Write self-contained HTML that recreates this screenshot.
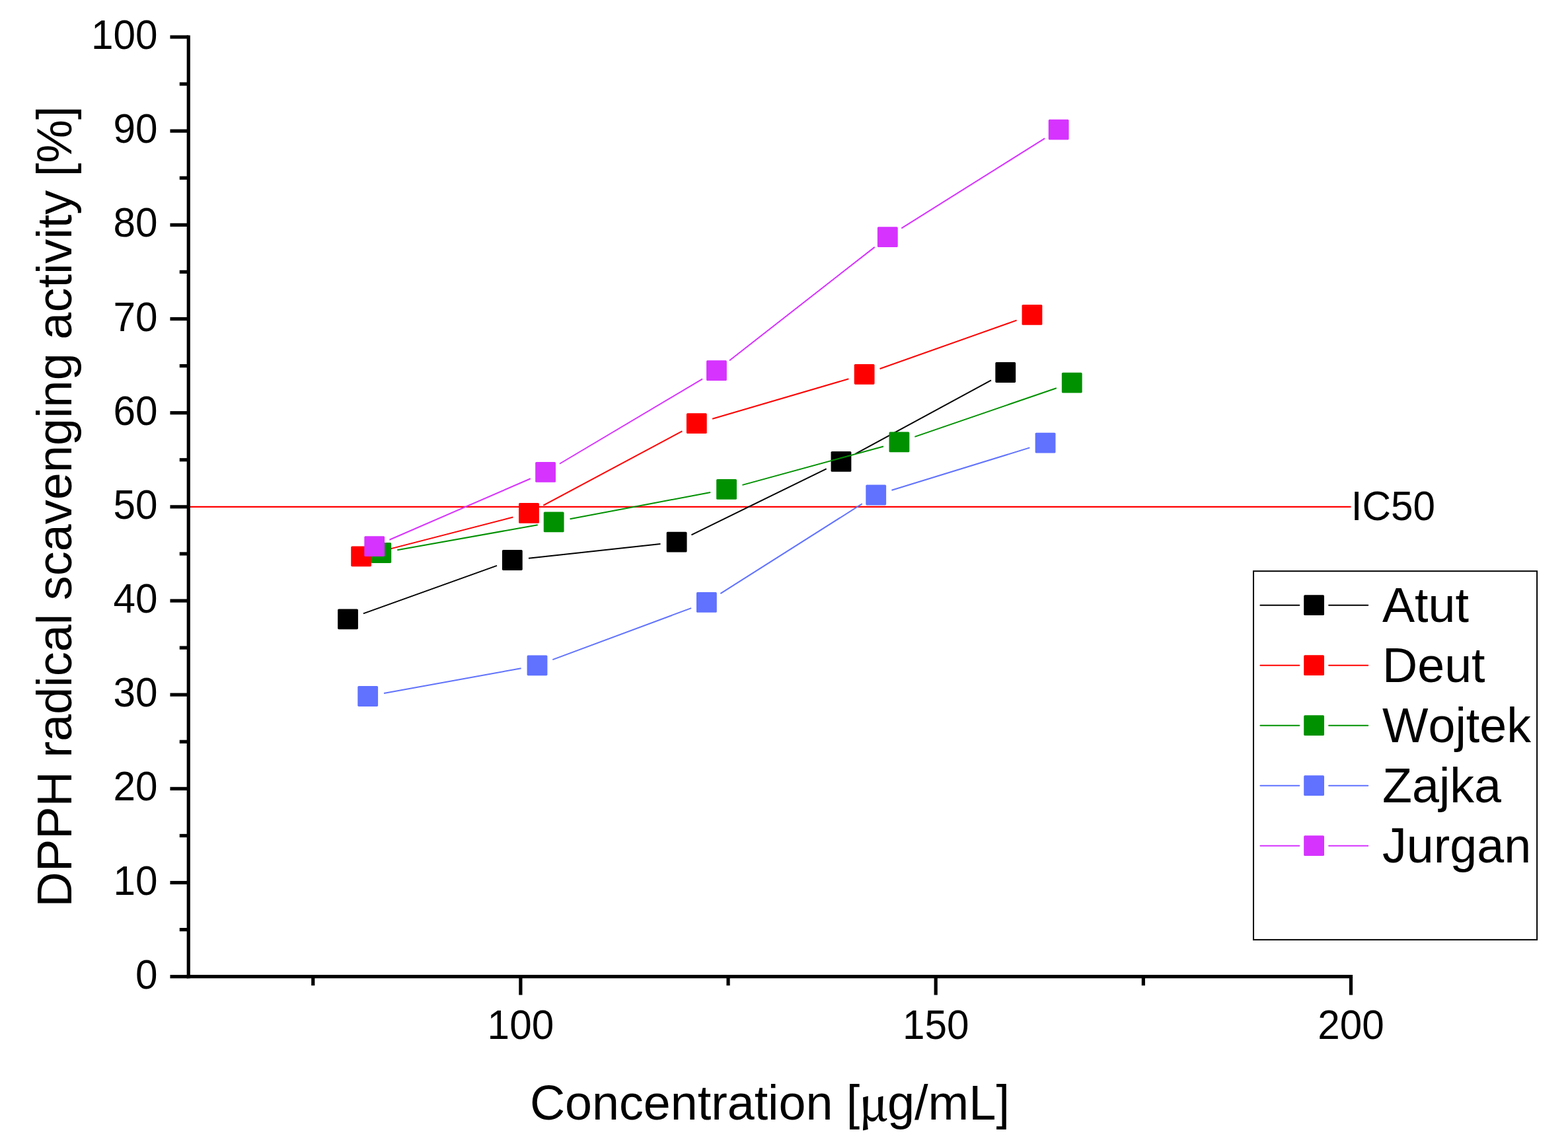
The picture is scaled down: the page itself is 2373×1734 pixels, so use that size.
<!DOCTYPE html>
<html lang="en"><head><meta charset="utf-8"><title>DPPH radical scavenging activity vs concentration</title>
<style>
html,body{margin:0;padding:0;background:#fff;overflow:hidden;}
svg{display:block;}
text{font-family:"Liberation Sans",Arial,sans-serif;fill:#000;font-kerning:none;}
.mu{font-family:"Noto Serif CJK SC","Liberation Serif",serif;font-weight:600;}
</style></head><body>
<svg width="2373" height="1734" viewBox="0 0 2373 1734">
<rect width="2373" height="1734" fill="#fff"/>
<line x1="285.26" y1="766.9" x2="2044.5" y2="766.9" stroke="#ff0000" stroke-width="2.1"/>
<g>
<line x1="549.87" y1="928.42" x2="751.99" y2="855.88" stroke="#000000" stroke-width="2.0"/>
<line x1="799.99" y1="844.8" x2="999.49" y2="822.9" stroke="#000000" stroke-width="2.0"/>
<line x1="1046.42" y1="809.3" x2="1250.67" y2="709.3" stroke="#000000" stroke-width="2.0"/>
<line x1="1294.75" y1="686.58" x2="1499.95" y2="575.32" stroke="#000000" stroke-width="2.0"/>
<rect x="511.13" y="921.4" width="30.8" height="30.8" rx="1.6" fill="#000000"/>
<rect x="759.93" y="832.1" width="30.8" height="30.8" rx="1.6" fill="#000000"/>
<rect x="1008.74" y="804.8" width="30.8" height="30.8" rx="1.6" fill="#000000"/>
<rect x="1257.55" y="683" width="30.8" height="30.8" rx="1.6" fill="#000000"/>
<rect x="1506.35" y="548.1" width="30.8" height="30.8" rx="1.6" fill="#000000"/>
</g>
<g>
<line x1="570.65" y1="835.61" x2="776.45" y2="782.59" stroke="#ff0000" stroke-width="2.0"/>
<line x1="822.34" y1="764.71" x2="1032.43" y2="652.39" stroke="#ff0000" stroke-width="2.0"/>
<line x1="1078.1" y1="633.72" x2="1284.33" y2="573.28" stroke="#ff0000" stroke-width="2.0"/>
<line x1="1331.51" y1="558.02" x2="1538.59" y2="484.68" stroke="#ff0000" stroke-width="2.0"/>
<rect x="531.23" y="826.4" width="30.8" height="30.8" rx="1.6" fill="#ff0000"/>
<rect x="785.07" y="761" width="30.8" height="30.8" rx="1.6" fill="#ff0000"/>
<rect x="1038.9" y="625.3" width="30.8" height="30.8" rx="1.6" fill="#ff0000"/>
<rect x="1292.73" y="550.9" width="30.8" height="30.8" rx="1.6" fill="#ff0000"/>
<rect x="1546.57" y="461" width="30.8" height="30.8" rx="1.6" fill="#ff0000"/>
</g>
<g>
<line x1="601.21" y1="832.15" x2="813.75" y2="794.25" stroke="#009100" stroke-width="2.0"/>
<line x1="862.53" y1="785.29" x2="1075.17" y2="745.01" stroke="#009100" stroke-width="2.0"/>
<line x1="1123.46" y1="733.86" x2="1336.99" y2="675.44" stroke="#009100" stroke-width="2.0"/>
<line x1="1384.37" y1="660.85" x2="1598.83" y2="587.25" stroke="#009100" stroke-width="2.0"/>
<rect x="561.39" y="821.1" width="30.8" height="30.8" rx="1.6" fill="#009100"/>
<rect x="822.76" y="774.5" width="30.8" height="30.8" rx="1.6" fill="#009100"/>
<rect x="1084.14" y="725" width="30.8" height="30.8" rx="1.6" fill="#009100"/>
<rect x="1345.51" y="653.5" width="30.8" height="30.8" rx="1.6" fill="#009100"/>
<rect x="1606.88" y="563.8" width="30.8" height="30.8" rx="1.6" fill="#009100"/>
</g>
<g>
<line x1="581.08" y1="1049.06" x2="788.63" y2="1011.24" stroke="#6072ff" stroke-width="2.0"/>
<line x1="836.28" y1="998.15" x2="1046.13" y2="920.1" stroke="#6072ff" stroke-width="2.0"/>
<line x1="1090.33" y1="898.18" x2="1304.78" y2="762.27" stroke="#6072ff" stroke-width="2.0"/>
<line x1="1349.43" y1="741.7" x2="1558.37" y2="677.4" stroke="#6072ff" stroke-width="2.0"/>
<rect x="541.29" y="1038.1" width="30.8" height="30.8" rx="1.6" fill="#6072ff"/>
<rect x="797.63" y="991.4" width="30.8" height="30.8" rx="1.6" fill="#6072ff"/>
<rect x="1053.98" y="896.05" width="30.8" height="30.8" rx="1.6" fill="#6072ff"/>
<rect x="1310.32" y="733.6" width="30.8" height="30.8" rx="1.6" fill="#6072ff"/>
<rect x="1566.67" y="654.7" width="30.8" height="30.8" rx="1.6" fill="#6072ff"/>
</g>
<g>
<line x1="589.49" y1="816.74" x2="802.84" y2="724.26" stroke="#d633ff" stroke-width="2.0"/>
<line x1="846.92" y1="701.74" x2="1063.13" y2="573.36" stroke="#d633ff" stroke-width="2.0"/>
<line x1="1104.01" y1="545.44" x2="1323.77" y2="373.86" stroke="#d633ff" stroke-width="2.0"/>
<line x1="1364.33" y1="345.42" x2="1581.17" y2="209.38" stroke="#d633ff" stroke-width="2.0"/>
<rect x="551.34" y="811.2" width="30.8" height="30.8" rx="1.6" fill="#d633ff"/>
<rect x="810.2" y="699" width="30.8" height="30.8" rx="1.6" fill="#d633ff"/>
<rect x="1069.06" y="545.3" width="30.8" height="30.8" rx="1.6" fill="#d633ff"/>
<rect x="1327.92" y="343.2" width="30.8" height="30.8" rx="1.6" fill="#d633ff"/>
<rect x="1586.78" y="180.8" width="30.8" height="30.8" rx="1.6" fill="#d633ff"/>
</g>
<g stroke="#000" stroke-width="5.2">
<line x1="285.26" y1="53.4" x2="285.26" y2="1480.3"/>
<line x1="282.66" y1="1477.7" x2="2047.1" y2="1477.7"/>
<line x1="257.46" y1="1477.7" x2="285.26" y2="1477.7"/>
<line x1="271.76" y1="1406.62" x2="285.26" y2="1406.62"/>
<line x1="257.46" y1="1335.53" x2="285.26" y2="1335.53"/>
<line x1="271.76" y1="1264.45" x2="285.26" y2="1264.45"/>
<line x1="257.46" y1="1193.36" x2="285.26" y2="1193.36"/>
<line x1="271.76" y1="1122.28" x2="285.26" y2="1122.28"/>
<line x1="257.46" y1="1051.19" x2="285.26" y2="1051.19"/>
<line x1="271.76" y1="980.11" x2="285.26" y2="980.11"/>
<line x1="257.46" y1="909.02" x2="285.26" y2="909.02"/>
<line x1="271.76" y1="837.94" x2="285.26" y2="837.94"/>
<line x1="257.46" y1="766.85" x2="285.26" y2="766.85"/>
<line x1="271.76" y1="695.76" x2="285.26" y2="695.76"/>
<line x1="257.46" y1="624.68" x2="285.26" y2="624.68"/>
<line x1="271.76" y1="553.6" x2="285.26" y2="553.6"/>
<line x1="257.46" y1="482.51" x2="285.26" y2="482.51"/>
<line x1="271.76" y1="411.42" x2="285.26" y2="411.42"/>
<line x1="257.46" y1="340.34" x2="285.26" y2="340.34"/>
<line x1="271.76" y1="269.26" x2="285.26" y2="269.26"/>
<line x1="257.46" y1="198.17" x2="285.26" y2="198.17"/>
<line x1="271.76" y1="127.09" x2="285.26" y2="127.09"/>
<line x1="257.46" y1="56" x2="285.26" y2="56"/>
<line x1="473.75" y1="1477.7" x2="473.75" y2="1491.2"/>
<line x1="787.9" y1="1477.7" x2="787.9" y2="1505.5"/>
<line x1="1102.05" y1="1477.7" x2="1102.05" y2="1491.2"/>
<line x1="1416.2" y1="1477.7" x2="1416.2" y2="1505.5"/>
<line x1="1730.35" y1="1477.7" x2="1730.35" y2="1491.2"/>
<line x1="2044.5" y1="1477.7" x2="2044.5" y2="1505.5"/>
</g>
<text font-size="60.3" text-anchor="end" transform="translate(238.6,1495.8) scale(1,1.0405)">0</text>
<text font-size="60.3" text-anchor="end" transform="translate(238.6,1353.63) scale(1,1.0405)">10</text>
<text font-size="60.3" text-anchor="end" transform="translate(238.6,1211.46) scale(1,1.0405)">20</text>
<text font-size="60.3" text-anchor="end" transform="translate(238.6,1069.29) scale(1,1.0405)">30</text>
<text font-size="60.3" text-anchor="end" transform="translate(238.6,927.12) scale(1,1.0405)">40</text>
<text font-size="60.3" text-anchor="end" transform="translate(238.6,784.95) scale(1,1.0405)">50</text>
<text font-size="60.3" text-anchor="end" transform="translate(238.6,642.78) scale(1,1.0405)">60</text>
<text font-size="60.3" text-anchor="end" transform="translate(238.6,500.61) scale(1,1.0405)">70</text>
<text font-size="60.3" text-anchor="end" transform="translate(238.6,358.44) scale(1,1.0405)">80</text>
<text font-size="60.3" text-anchor="end" transform="translate(238.6,216.27) scale(1,1.0405)">90</text>
<text font-size="60.3" text-anchor="end" transform="translate(238.6,74.1) scale(1,1.0405)">100</text>
<text font-size="60.3" text-anchor="middle" transform="translate(787.9,1571.9) scale(1,1.0405)">100</text>
<text font-size="60.3" text-anchor="middle" transform="translate(1416.2,1571.9) scale(1,1.0405)">150</text>
<text font-size="60.3" text-anchor="middle" transform="translate(2044.5,1571.9) scale(1,1.0405)">200</text>
<text font-size="60.3" transform="translate(2044.7,786.9) scale(1,1.0405)">IC50</text>
<text font-size="73.93" transform="translate(108.0,1372.4) rotate(-90)">DPPH radical scavenging activity [%]</text>
<text font-size="73.65" transform="translate(801.9,1694.0)">Concentration [<tspan class="mu" x="497.9" dy="1.6" font-size="68.5">μ</tspan><tspan x="541" dy="-1.6" font-size="74">g/mL]</tspan></text>
<rect x="1897" y="864.2" width="429.1" height="557.7" fill="#fff" stroke="#000" stroke-width="2"/>
<line x1="1907.4" y1="915.7" x2="1966.4" y2="915.7" stroke="#000000" stroke-width="1.9" stroke-linecap="round"/>
<line x1="2011.1" y1="915.7" x2="2070.3" y2="915.7" stroke="#000000" stroke-width="1.9" stroke-linecap="round"/>
<rect x="1973.2" y="900.3" width="30.8" height="30.8" rx="1.6" fill="#000000"/>
<text font-size="73.65" transform="translate(2092,940.9)">Atut</text>
<line x1="1907.4" y1="1006.7" x2="1966.4" y2="1006.7" stroke="#ff0000" stroke-width="1.9" stroke-linecap="round"/>
<line x1="2011.1" y1="1006.7" x2="2070.3" y2="1006.7" stroke="#ff0000" stroke-width="1.9" stroke-linecap="round"/>
<rect x="1973.2" y="991.3" width="30.8" height="30.8" rx="1.6" fill="#ff0000"/>
<text font-size="73.65" transform="translate(2092,1031.9)">Deut</text>
<line x1="1907.4" y1="1097.7" x2="1966.4" y2="1097.7" stroke="#009100" stroke-width="1.9" stroke-linecap="round"/>
<line x1="2011.1" y1="1097.7" x2="2070.3" y2="1097.7" stroke="#009100" stroke-width="1.9" stroke-linecap="round"/>
<rect x="1973.2" y="1082.3" width="30.8" height="30.8" rx="1.6" fill="#009100"/>
<text font-size="73.65" transform="translate(2092,1122.9)">Wojtek</text>
<line x1="1907.4" y1="1188.7" x2="1966.4" y2="1188.7" stroke="#6072ff" stroke-width="1.9" stroke-linecap="round"/>
<line x1="2011.1" y1="1188.7" x2="2070.3" y2="1188.7" stroke="#6072ff" stroke-width="1.9" stroke-linecap="round"/>
<rect x="1973.2" y="1173.3" width="30.8" height="30.8" rx="1.6" fill="#6072ff"/>
<text font-size="73.65" transform="translate(2092,1213.9)">Zajka</text>
<line x1="1907.4" y1="1279.7" x2="1966.4" y2="1279.7" stroke="#d633ff" stroke-width="1.9" stroke-linecap="round"/>
<line x1="2011.1" y1="1279.7" x2="2070.3" y2="1279.7" stroke="#d633ff" stroke-width="1.9" stroke-linecap="round"/>
<rect x="1973.2" y="1264.3" width="30.8" height="30.8" rx="1.6" fill="#d633ff"/>
<text font-size="73.65" transform="translate(2092,1304.9)">Jurgan</text>
</svg>
</body></html>
